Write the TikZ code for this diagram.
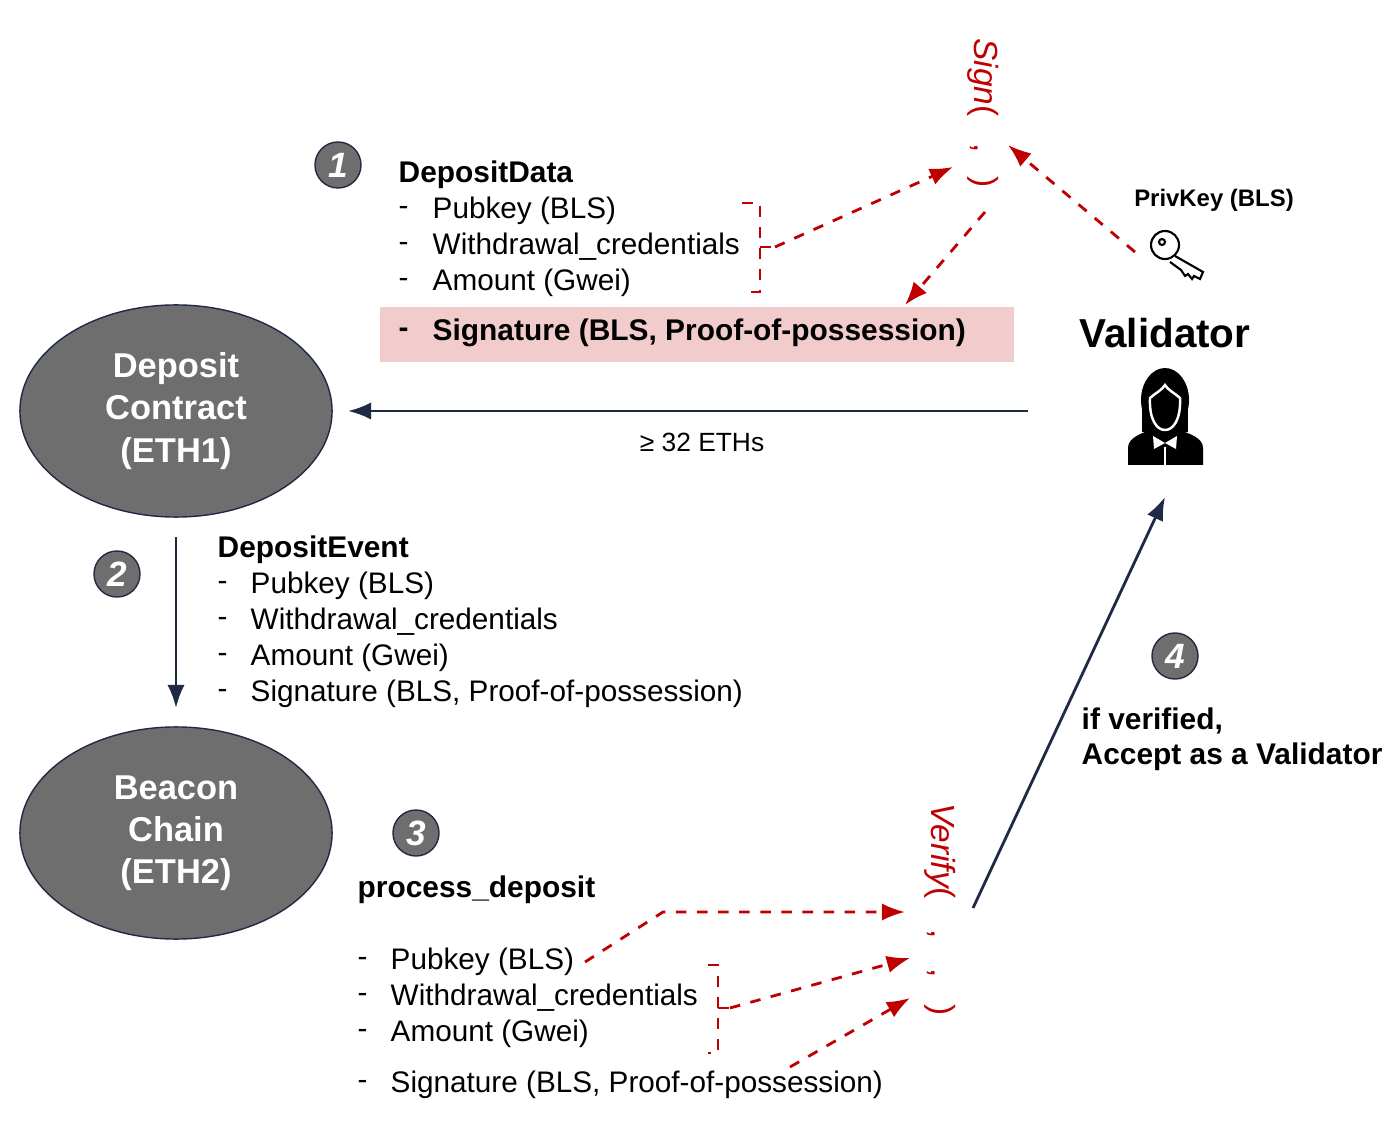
\documentclass[tikz,border=0pt]{standalone}
\usepackage{fontspec}
\setmainfont{Liberation Sans}
\usepackage{amsmath}
\usetikzlibrary{arrows.meta,shapes.geometric}
\definecolor{sigred}{HTML}{C00000}
\definecolor{navy}{HTML}{1F2A44}
\definecolor{chaingray}{HTML}{6E6E6E}
\definecolor{hlpink}{HTML}{F2CCCD}
\begin{document}
\begin{tikzpicture}[x=0.01cm, y=-0.01cm,
    arrow/.style={-Latex, navy},
    redarrow/.style={-Latex, sigred, dashed, thick},
    bracket/.style={sigred, dashed, thick},
    chain/.style={ellipse, draw=navy, fill=chaingray, minimum width=3.12cm, minimum height=2.12cm,
        text=white, font=\fontsize{9.8}{12}\selectfont\bfseries, align=center, inner sep=0pt},
    stepnum/.style={circle, draw=navy, fill=chaingray, minimum size=0.46cm, inner sep=0pt,
        text=white, font=\fontsize{10}{12}\selectfont\bfseries\itshape},
    item/.style={anchor=west, font=\fontsize{8.45}{10}\selectfont, inner sep=0pt},
    head/.style={anchor=west, font=\fontsize{8.5}{10}\selectfont\bfseries, inner sep=0pt},
    rot/.style={rotate=-90, text=sigred, font=\fontsize{9.5}{10}\selectfont, inner sep=0pt},
    ]
    \useasboundingbox (0,0) rectangle (1400,1146);

    \node[chain] (dc) at (176,411) {Deposit\\Contract\\(ETH1)};
    \node[chain] (bc) at (176,833) {Beacon\\Chain\\(ETH2)};

    \node[stepnum] (s1) at (338,165) {1};
    \node[stepnum] (s2) at (117,574) {2};
    \node[stepnum] (s3) at (416,833) {3};
    \node[stepnum] (s4) at (1175,656) {4};

    % DepositData
    \fill[hlpink] (380,307) rectangle (1014,362);
    \node[head] (dd) at (398,175) {DepositData};
    \foreach \y/\t/\n in {211/Pubkey (BLS)/a, 247/Withdrawal\_credentials/b, 283/Amount (Gwei)/c}{
        \node[item] at (398,\y) {-};
        \node[item] (dd\n) at (432,\y) {\t};
    }
    \node[item] at (398,333) {\bfseries -};
    \node[head] (ddsig) at (432,333) {Signature (BLS, Proof-of-possession)};

    % Sign
    \node[rot, anchor=west] (sign) at (983,38) {\itshape Sign\upshape(\hspace{0.8em},\hspace{0.7em})};
    \coordinate (b1) at (775,247);
    \draw[bracket] (742,203) -- (760,203) -- (760,292) -- (742,292);
    \draw[bracket] (760,247) -- (b1);
    \draw[redarrow] (b1) -- (953,167);
    \draw[redarrow] (985,212) -- (905,305);
    \draw[redarrow] (1135,252) -- (1008,145);

    % key
    \node[anchor=south, font=\fontsize{6.8}{8}\selectfont\bfseries, inner sep=0pt] (pk) at (1214,212) {PrivKey (BLS)};
    \begin{scope}[line width=0.6pt]
        \draw (1165,245) circle (14);
        \draw (1162,242) circle (3);
        \draw (1175,256) -- (1203,272) -- (1200,279) -- (1194,276) -- (1192,279) -- (1188,274) -- (1185,276) -- (1181,270) -- (1170,262);
    \end{scope}

    % validator
    \node[font=\fontsize{11.5}{14}\selectfont\bfseries] (val) at (1165,333) {Validator};
    \begin{scope}
        \fill (1128,465) -- (1128,448) .. controls (1128,438) and (1140,434) .. (1150,430) -- (1180,430) .. controls (1190,434) and (1203,438) .. (1203,448) -- (1203,465) -- cycle;
        \fill (1165,400) ellipse (24 and 32);
        \fill (1142,405) rectangle (1188,432);
        \draw[white, line width=0.7pt, fill=black] (1150,398) .. controls (1157,392) and (1162,390) .. (1165,385) .. controls (1168,390) and (1173,392) .. (1180,398) .. controls (1181,420) and (1173,430) .. (1165,430) .. controls (1157,430) and (1149,420) .. (1150,398) -- cycle;
        \fill[white] (1153,436) -- (1165,443) -- (1177,436) -- (1176,449) -- (1165,443) -- (1154,449) -- cycle;
        \draw[white, line width=0.8pt] (1165,447) -- (1165,465);
    \end{scope}
    \coordinate (vin) at (1028,411);
    \coordinate (dcin) at (348,411);
    \draw[arrow, thick] (vin) -- (dcin);
    \node[font=\fontsize{7.5}{9}\selectfont] (eth) at (702,442) {≥ 32 ETHs};

    % DepositEvent
    \coordinate (e1) at (176,537);
    \coordinate (e2) at (176,708);
    \draw[arrow, thick] (e1) -- (e2);
    \node[head] (de) at (217,550) {DepositEvent};
    \foreach \y/\t in {586/Pubkey (BLS), 622/Withdrawal\_credentials, 658/Amount (Gwei), 694/{Signature (BLS, Proof-of-possession)}}{
        \node[item] at (217,\y) {-};
        \node[item] at (250,\y) {\t};
    }

    % process_deposit
    \node[head] (pd) at (357,890) {process\_deposit};
    \foreach \y/\t/\n in {962/Pubkey (BLS)/a, 998/Withdrawal\_credentials/b, 1034/Amount (Gwei)/c, 1085/{Signature (BLS, Proof-of-possession)}/d}{
        \node[item] at (357,\y) {-};
        \node[item] (pd\n) at (390,\y) {\t};
    }
    \node[rot, anchor=west] (verify) at (940,803) {\itshape Verify\upshape(\hspace{0.9em},\hspace{0.9em},\hspace{0.8em})};
    \coordinate (b2) at (730,1008);
    \draw[redarrow] (585,962) -- (663,912) -- (905,912);
    \draw[bracket] (708,965) -- (718,965) -- (718,1053) -- (708,1053);
    \draw[bracket] (718,1008) -- (b2);
    \draw[redarrow] (b2) -- (910,958);
    \draw[redarrow] (790,1067) -- (910,998);

    % accept
    \coordinate (a1) at (973,908);
    \coordinate (a2) at (1165,497);
    \draw[arrow, thick] (a1) -- (a2);
    \node[head] (acc1) at (1081,721) {if verified,};
    \node[head] (acc2) at (1081,757) {Accept as a Validator};
\end{tikzpicture}
\end{document}
